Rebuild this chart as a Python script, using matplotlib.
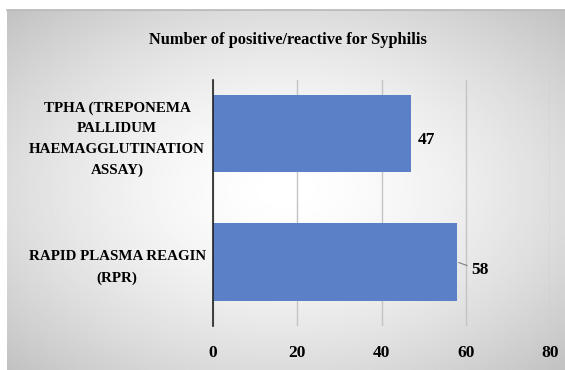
import numpy as np
import matplotlib
matplotlib.use("Agg")
import matplotlib.pyplot as plt

categories = ["RAPID PLASMA REAGIN\n(RPR)",
              "TPHA (TREPONEMA\nPALLIDUM\nHAEMAGGLUTINATION\nASSAY)"]
values = [58, 47]
xticks = [0, 20, 40, 60, 80]
title = "Number of positive/reactive for Syphilis"

serif = ["Liberation Serif", "DejaVu Serif"]
W, H = 565, 370
fig = plt.figure(figsize=(W / 100, H / 100), dpi=100)
fig.patch.set_facecolor("white")

# radial-gradient chart area background
bg = fig.add_axes([7 / W, 0, 1 - 7 / W, 1 - 10 / H])
bg.set_axis_off()
yy, xx = np.mgrid[-1:1:200j, -1:1:300j]
r = np.sqrt(xx ** 2 + yy ** 2) / np.sqrt(2)
shade = 1.0 - 0.24 * np.clip(r, 0, 1) ** 1.6
bg.imshow(shade, cmap="gray", vmin=0, vmax=1, aspect="auto",
          extent=[0, 1, 0, 1], interpolation="bilinear")
bg.set_xlim(0, 1)
bg.set_ylim(0, 1)
bg.plot([0, 1], [1, 1], color="#b8b8b8", lw=1.2, transform=bg.transAxes, clip_on=False)

ax = fig.add_axes([213 / W, 1 - 326 / H, (550 - 213) / W, (326 - 80) / H])
ax.patch.set_alpha(0)
y = np.arange(len(categories))
bars = ax.barh(y, values, height=0.6, color="#5b80c8", zorder=2)
ax.set_xlim(0, 80)
ax.set_ylim(-0.498, 1.416)
ax.set_xticks(xticks)
ax.set_xticklabels([str(t) for t in xticks])
ax.set_yticks(y)
ax.set_yticklabels(categories, ha="center", linespacing=1.75)
for lab in ax.get_yticklabels():
    lab.set_fontfamily(serif)
    lab.set_fontweight("bold")
    lab.set_fontsize(10.8)
for lab in ax.get_xticklabels():
    lab.set_fontfamily(serif)
    lab.set_fontweight("bold")
    lab.set_fontsize(12.5)
ax.tick_params(axis="y", length=0, pad=69)
ax.tick_params(axis="x", length=0, pad=14)
ax.grid(axis="x", color="#c4c4c4", lw=1, zorder=0)
for s in ["top", "right", "bottom"]:
    ax.spines[s].set_visible(False)
ax.spines["left"].set_color("#222222")
ax.spines["left"].set_linewidth(1.2)
ax.spines["left"].set_zorder(3)

# value labels
ax.annotate(str(values[1]), xy=(values[1], y[1]), xytext=(5, -5),
            textcoords="offset points", ha="left", va="center",
            fontfamily=serif, fontweight="bold", fontsize=12.5)
ax.annotate(str(values[0]), xy=(values[0], y[0]), xytext=(10, -6),
            textcoords="offset points", ha="left", va="center",
            fontfamily=serif, fontweight="bold", fontsize=12.5,
            arrowprops=dict(arrowstyle="-", color="#808080", lw=0.8,
                            shrinkA=1, shrinkB=1))

fig.text(288 / W, 1 - 40 / H, title, ha="center", va="center",
         fontfamily=serif, fontweight="bold", fontsize=11.8)

fig.savefig("out.png", dpi=100)
